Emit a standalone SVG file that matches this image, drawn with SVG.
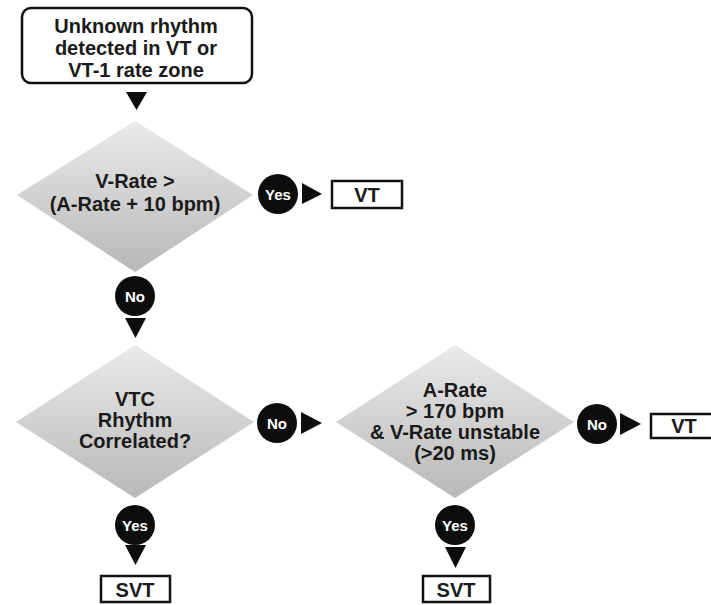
<svg xmlns="http://www.w3.org/2000/svg" width="711" height="605" viewBox="0 0 711 605">
<defs>
<linearGradient id="dg" x1="0" y1="0" x2="0" y2="1">
<stop offset="0" stop-color="#eaeaea"/>
<stop offset="1" stop-color="#b8b8b8"/>
</linearGradient>
</defs>
<style>
.t{font-family:"Liberation Sans",Arial,sans-serif;font-weight:bold;fill:#1a1a1a;text-anchor:middle}
.big{font-size:20px}
.dt{font-size:20px}
.lbl{font-family:"Liberation Sans",Arial,sans-serif;font-weight:bold;fill:#fff;text-anchor:middle;font-size:15px}
.box{fill:#fff;stroke:#111;stroke-width:2.5}
.dia{fill:url(#dg)}
.circ{fill:#0d0d0d}
.arr{fill:#0d0d0d}
</style>
<rect width="711" height="605" fill="#fff"/>
<g id="start">
<rect x="22" y="8" width="230" height="75" rx="9" class="box" stroke-width="3"/>
<text class="t big" x="136" y="33">Unknown rhythm</text>
<text class="t big" x="136" y="55">detected in VT or</text>
<text class="t big" x="136" y="77">VT-1 rate zone</text>
</g>
<g id="d1">
<polygon class="dia" points="135,121 253,195 135,272 17,195"/>
<text class="t dt" x="135" y="188">V-Rate &gt;</text>
<text class="t dt" x="135" y="211">(A-Rate + 10 bpm)</text>
</g>
<g id="vt1">
<rect x="332" y="181" width="70" height="27" class="box"/>
<text class="t big" x="367" y="202">VT</text>
</g>
<g id="d2">
<polygon class="dia" points="135,345 254,422 135,498 16,422"/>
<text class="t dt" x="135" y="406">VTC</text>
<text class="t dt" x="135" y="427">Rhythm</text>
<text class="t dt" x="135" y="448">Correlated?</text>
</g>
<g id="d3">
<polygon class="dia" points="455,345 574,422 455,498 336,422"/>
<text class="t dt" x="455" y="397">A-Rate</text>
<text class="t dt" x="455" y="418">&gt; 170 bpm</text>
<text class="t dt" x="455" y="439">&amp; V-Rate unstable</text>
<text class="t dt" x="455" y="460">(&gt;20 ms)</text>
</g>
<g id="vt2">
<rect x="651" y="414" width="75" height="24" class="box"/>
<text class="t big" x="684" y="433">VT</text>
</g>
<g id="svt1">
<rect x="101" y="576" width="69" height="26" class="box"/>
<text class="t big" x="135" y="597">SVT</text>
</g>
<g id="svt2">
<rect x="423" y="576" width="67" height="26" class="box"/>
<text class="t big" x="456" y="597">SVT</text>
</g>
<g id="connectors">
<polygon class="arr" points="126,92 147,92 136.5,110"/>
<circle class="circ" cx="278" cy="194" r="20"/>
<text class="lbl" x="278" y="199.5">Yes</text>
<polygon class="arr" points="302,183 322,194 302,204"/>
<circle class="circ" cx="135" cy="296" r="20"/>
<text class="lbl" x="135" y="301.5">No</text>
<polygon class="arr" points="125,318 146,318 135.5,338"/>
<circle class="circ" cx="277" cy="423" r="20"/>
<text class="lbl" x="277" y="428.5">No</text>
<polygon class="arr" points="301,412 322,423 301,434"/>
<circle class="circ" cx="597" cy="424" r="20"/>
<text class="lbl" x="597" y="429.5">No</text>
<polygon class="arr" points="620,413 641,424 620,435"/>
<circle class="circ" cx="135" cy="525" r="20"/>
<text class="lbl" x="135" y="530.5">Yes</text>
<polygon class="arr" points="125,545 146,545 135.5,565"/>
<circle class="circ" cx="455" cy="525" r="20"/>
<text class="lbl" x="455" y="530.5">Yes</text>
<polygon class="arr" points="445,547 466,547 455.5,568"/>
</g>
</svg>
